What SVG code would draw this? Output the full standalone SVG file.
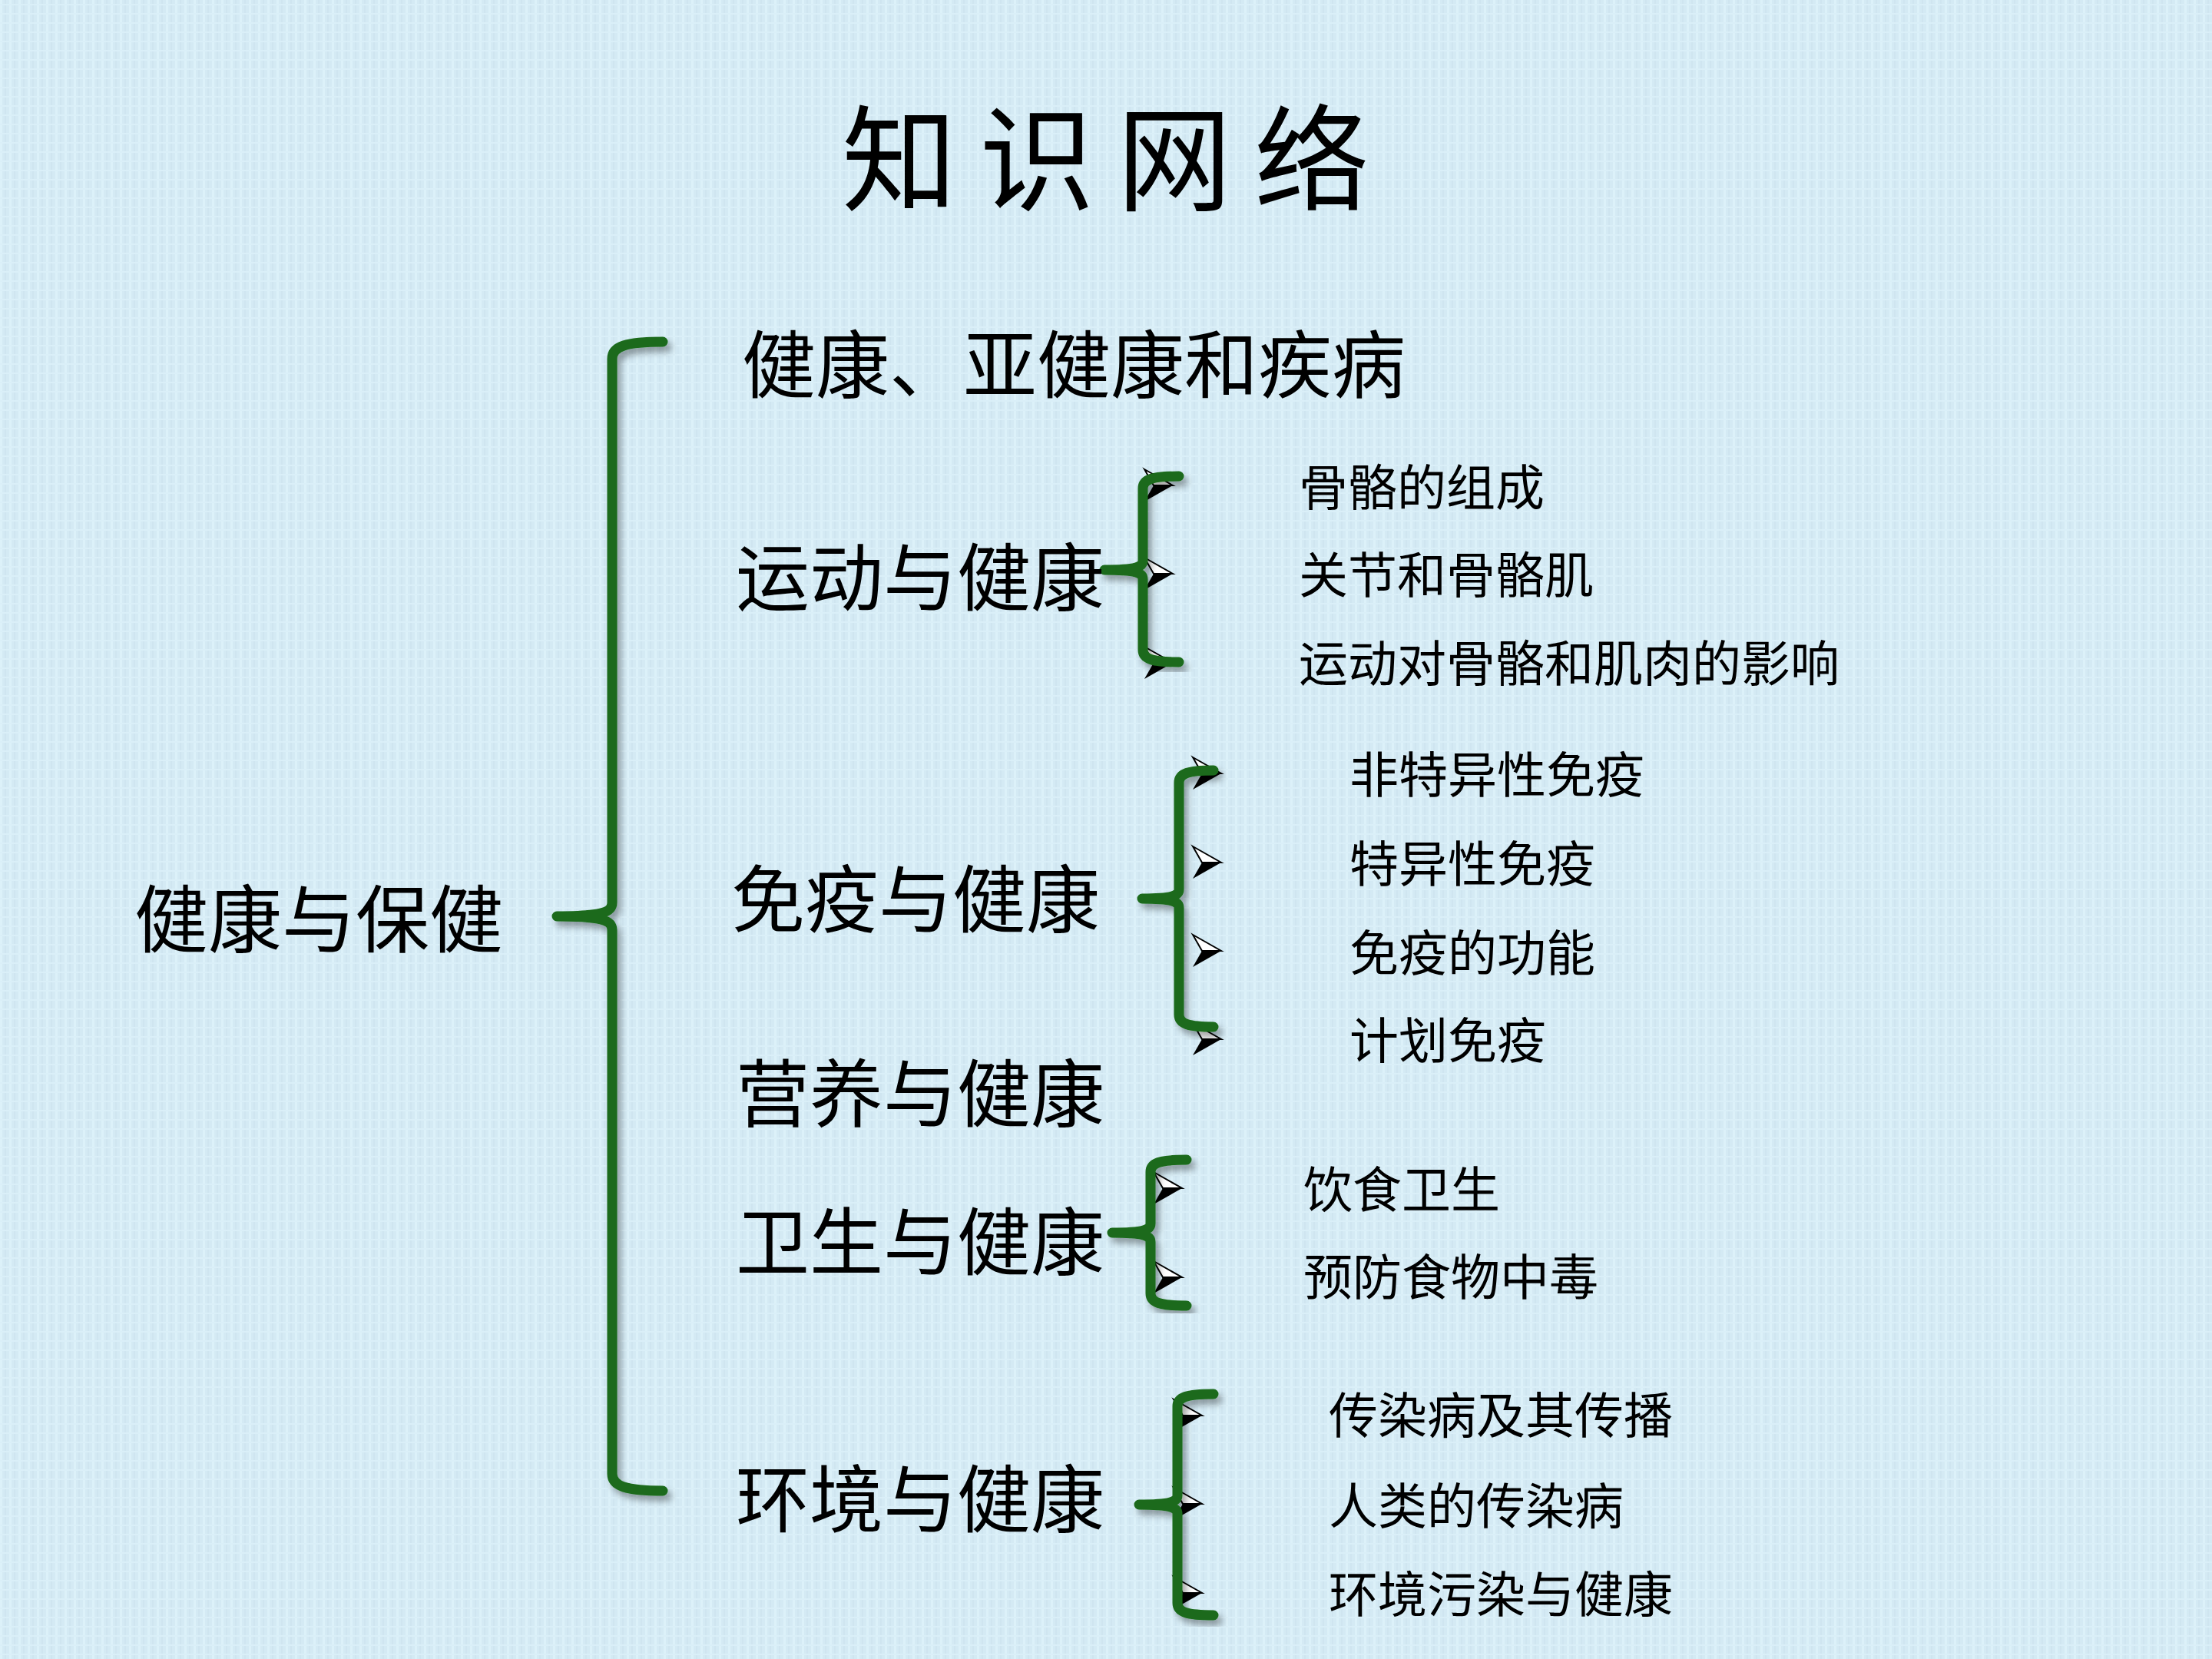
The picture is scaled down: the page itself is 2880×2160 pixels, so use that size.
<svg xmlns="http://www.w3.org/2000/svg" width="2880" height="2160" viewBox="0 0 2880 2160">
<defs>
<pattern id="tex" width="12" height="12" patternUnits="userSpaceOnUse">
<rect width="12" height="12" fill="#d4eaf4"/>
<rect x="0" y="0" width="3" height="12" fill="#dcf1f9"/>
<rect x="6" y="0" width="2" height="12" fill="#cfe5f0"/>
<rect x="0" y="5" width="12" height="2" fill="#daeff8"/>
</pattern>
<filter id="sh" x="-20%" y="-5%" width="140%" height="110%">
<feDropShadow dx="5" dy="7" stdDeviation="4" flood-color="#000" flood-opacity="0.35"/>
</filter>
<g id="arr">
<polygon points="0,-21 37,0 12,0" fill="#fff" stroke="#000" stroke-width="2"/>
<polygon points="12,0 37,0 0,21" fill="#000"/>
</g>
</defs>
<style>
.t{font-family:"Noto Sans CJK SC","Noto Sans",sans-serif;fill:#000}
.l1{font-size:96px}
.l3{font-size:64px}
.title{font-size:150px;letter-spacing:29px}
.br{fill:none;stroke:#1a6b1a;stroke-width:13;stroke-linecap:round;stroke-linejoin:round;filter:url(#sh)}
</style>
<rect width="2880" height="2160" fill="url(#tex)"/>
<g id="title"><text class="t title" x="1096" y="263">知识网络</text></g>
<g id="arrows">
<use href="#arr" x="1490" y="632"/>
<use href="#arr" x="1490" y="747"/>
<use href="#arr" x="1490" y="863"/>
<use href="#arr" x="1553" y="1007"/>
<use href="#arr" x="1553" y="1123"/>
<use href="#arr" x="1553" y="1238"/>
<use href="#arr" x="1553" y="1353"/>
<use href="#arr" x="1502" y="1547"/>
<use href="#arr" x="1502" y="1663"/>
<use href="#arr" x="1528" y="1843"/>
<use href="#arr" x="1528" y="1958"/>
<use href="#arr" x="1528" y="2074"/>
</g>
<g id="connectors">
<path class="br" d="M863,445 C815,445 797,451 797,467 L797,1175 C797,1187 787,1193 725,1193 M725,1193 C787,1193 797,1199 797,1211 L797,1919 C797,1935 815,1941 863,1941"/>
<path class="br" d="M1535,620 C1500,620 1488,624 1488,636 L1488,730 C1488,738 1480,742 1438,742 M1438,742 C1480,742 1488,746 1488,754 L1488,846 C1488,858 1500,862 1535,862"/>
<path class="br" d="M1580,1003 C1547,1003 1535,1007 1535,1019 L1535,1158 C1535,1166 1527,1170 1487,1170 M1487,1170 C1527,1170 1535,1174 1535,1182 L1535,1321 C1535,1333 1547,1337 1580,1337"/>
<path class="br" d="M1545,1510 C1510,1510 1498,1514 1498,1526 L1498,1593 C1498,1601 1490,1605 1448,1605 M1448,1605 C1490,1605 1498,1609 1498,1617 L1498,1684 C1498,1696 1510,1700 1545,1700"/>
<path class="br" d="M1580,1815 C1545,1815 1533,1819 1533,1831 L1533,1947 C1533,1955 1525,1959 1483,1959 M1483,1959 C1525,1959 1533,1963 1533,1971 L1533,2087 C1533,2099 1545,2103 1580,2103"/>
</g>
<g id="root"><text class="t l1" x="175" y="1232">健康与保健</text></g>
<g id="n1"><text class="t l1" x="966" y="510">健康、亚健康和疾病</text></g>
<g id="n2"><text class="t l1" x="958" y="787">运动与健康</text></g>
<g id="n3"><text class="t l1" x="952" y="1206">免疫与健康</text></g>
<g id="n4"><text class="t l1" x="958" y="1459">营养与健康</text></g>
<g id="n5"><text class="t l1" x="958" y="1652">卫生与健康</text></g>
<g id="n6"><text class="t l1" x="958" y="1987">环境与健康</text></g>
<g id="n2a"><text class="t l3" x="1691" y="658">骨骼的组成</text></g>
<g id="n2b"><text class="t l3" x="1691" y="772">关节和骨骼肌</text></g>
<g id="n2c"><text class="t l3" x="1691" y="887">运动对骨骼和肌肉的影响</text></g>
<g id="n3a"><text class="t l3" x="1757" y="1032">非特异性免疫</text></g>
<g id="n3b"><text class="t l3" x="1757" y="1148">特异性免疫</text></g>
<g id="n3c"><text class="t l3" x="1757" y="1264">免疫的功能</text></g>
<g id="n3d"><text class="t l3" x="1757" y="1378">计划免疫</text></g>
<g id="n5a"><text class="t l3" x="1697" y="1572">饮食卫生</text></g>
<g id="n5b"><text class="t l3" x="1697" y="1686">预防食物中毒</text></g>
<g id="n6a"><text class="t l3" x="1730" y="1866">传染病及其传播</text></g>
<g id="n6b"><text class="t l3" x="1730" y="1984">人类的传染病</text></g>
<g id="n6c"><text class="t l3" x="1730" y="2099">环境污染与健康</text></g>
</svg>
